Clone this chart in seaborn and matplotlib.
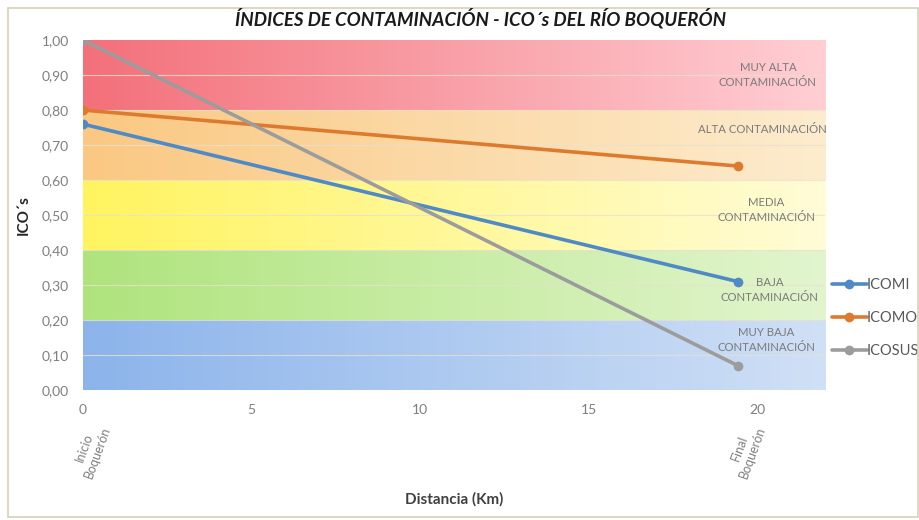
import numpy as np
import pandas as pd
import matplotlib
matplotlib.use("Agg")
import matplotlib.pyplot as plt
import seaborn as sns
from matplotlib.patches import Rectangle

# ---- data ----
distance_km = [0.0, 19.4]
icomi = [0.76, 0.31]
icomo = [0.80, 0.64]
icosus = [1.00, 0.07]
series_names = ["ICOMI", "ICOMO", "ICOSUS"]
series_colors = ["#4f8ac6", "#dd7a2e", "#9c9c9c"]
y_ticks = [0.0, 0.1, 0.2, 0.3, 0.4, 0.5, 0.6, 0.7, 0.8, 0.9, 1.0]
x_ticks = [0, 5, 10, 15, 20]
point_labels = ["Inicio\nBoquerón", "Final\nBoquerón"]
band_edges = [0.0, 0.2, 0.4, 0.6, 0.8, 1.0]
band_labels = ["MUY BAJA\nCONTAMINACIÓN", "BAJA\nCONTAMINACIÓN", "MEDIA\nCONTAMINACIÓN",
               "ALTA CONTAMINACIÓN", "MUY ALTA\nCONTAMINACIÓN"]
band_label_y = [0.143, 0.286, 0.514, 0.743, 0.90]
band_label_x = [20.25, 20.35, 20.25, 20.15, 20.3]
band_left = [(140, 180, 235), (175, 228, 125), (255, 244, 95), (250, 200, 130), (243, 112, 122)]
band_right = [(208, 224, 246), (226, 245, 206), (255, 252, 215), (253, 236, 206), (255, 207, 212)]

df = pd.DataFrame({
    "Distancia": distance_km * 3,
    "ICO": icomi + icomo + icosus,
    "Serie": [s for s in series_names for _ in distance_km],
})

sns.set_theme(style="white")
plt.rcParams["font.family"] = ["Lato", "DejaVu Sans"]

fig = plt.figure(figsize=(9.19, 5.20), dpi=100)
ax = fig.add_axes([0.090, 0.25, 0.808, 0.673])

xmin, xmax = 0, 22
# gradient bands
for lo, hi, cl, cr in zip(band_edges[:-1], band_edges[1:], band_left, band_right):
    t = np.linspace(0, 1, 256)
    grad = np.array([[np.array(cl) * (1 - v) + np.array(cr) * v for v in t]]) / 255.0
    ax.imshow(grad, extent=[xmin, xmax, lo, hi], aspect="auto", zorder=0,
              interpolation="bilinear")

for yv in y_ticks[1:-1]:
    ax.axhline(yv, color="#e8e0cf", lw=0.8, alpha=0.8, zorder=1)

sns.lineplot(data=df, x="Distancia", y="ICO", hue="Serie", palette=series_colors,
             marker="o", markersize=7, markeredgewidth=0, linewidth=2.6, ax=ax,
             zorder=3)

ax.set_xlim(xmin, xmax)
ax.set_ylim(0, 1.0)
ax.set_xticks(x_ticks)
ax.set_xticklabels([str(v) for v in x_ticks])
ax.set_yticks(y_ticks)
ax.set_yticklabels([f"{v:.2f}".replace(".", ",") for v in y_ticks])
ax.tick_params(axis="both", colors="#7f7f7f", labelsize=10, length=0, pad=10)
for sp in ax.spines.values():
    sp.set_visible(False)

for txt, yv, xv in zip(band_labels, band_label_y, band_label_x):
    ax.text(xv, yv, txt, ha="center", va="center", fontsize=8.2, color="#7a7a7a",
            linespacing=1.45, zorder=2)

for xv, txt in zip(distance_km, point_labels):
    ax.annotate(txt, xy=(xv, 0), xytext=(6, -22), textcoords="offset points",
                ha="center", va="top", rotation=70, fontsize=9, color="#7f7f7f",
                annotation_clip=False)

ax.set_xlabel("Distancia (Km)", fontsize=11, fontweight="bold", color="#404040",
              labelpad=55)
ax.set_ylabel("ICO´s", fontsize=11, fontweight="bold", color="#262626", labelpad=8)

fig.text(0.523, 0.965, "ÍNDICES DE CONTAMINACIÓN - ICO´s DEL RÍO BOQUERÓN",
         ha="center", va="center", fontsize=13.5, fontweight="bold",
         fontstyle="italic", color="#1a1a1a")

handles, labels = ax.get_legend_handles_labels()
leg = ax.legend(handles, labels, loc="center left", bbox_to_anchor=(1.009, 0.205),
                frameon=False, fontsize=10.5, handlelength=2.4, handletextpad=0.0,
                labelspacing=1.3, borderaxespad=0, borderpad=0)
for t in leg.get_texts():
    t.set_color("#595959")

fig.patches.append(Rectangle((0.009, 0.005), 0.99, 0.98, transform=fig.transFigure,
                             fill=False, edgecolor="#d8d0b5", lw=1.2))

fig.savefig("out.png", dpi=100)
